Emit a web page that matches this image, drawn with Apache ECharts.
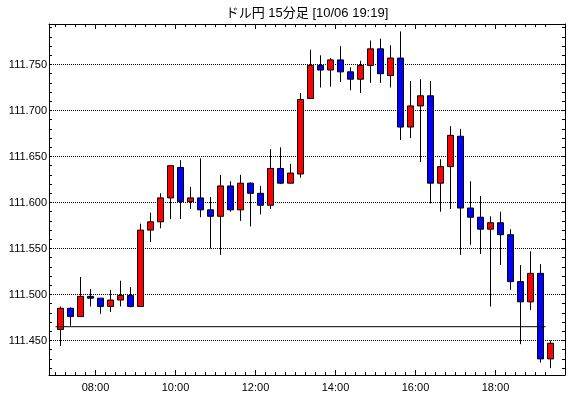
<!DOCTYPE html>
<html><head><meta charset="utf-8">
<script src="https://cdn.jsdelivr.net/npm/echarts@6/dist/echarts.min.js"></script>
<style>html,body{margin:0;padding:0;background:#fff}#c{width:570px;height:398px}</style>
</head><body><div id="c"></div>
<script>
const times = ['07:00','07:15','07:30','07:45','08:00','08:15','08:30','08:45','09:00','09:15',
 '09:30','09:45','10:00','10:15','10:30','10:45','11:00','11:15','11:30','11:45',
 '12:00','12:15','12:30','12:45','13:00','13:15','13:30','13:45','14:00','14:15',
 '14:30','14:45','15:00','15:15','15:30','15:45','16:00','16:15','16:30','16:45',
 '17:00','17:15','17:30','17:45','18:00','18:15','18:30','18:45','19:00','19:15'];
const openV = [111.462,111.485,111.476,111.498,111.496,111.487,111.494,111.499,111.487,111.570,
 111.579,111.605,111.638,111.601,111.605,111.592,111.585,111.618,111.592,111.621,
 111.610,111.597,111.637,111.621,111.631,111.713,111.749,111.744,111.755,111.742,
 111.734,111.749,111.767,111.738,111.757,111.682,111.705,111.716,111.621,111.639,
 111.672,111.594,111.584,111.571,111.578,111.565,111.514,111.492,111.523,111.430];
const closeV = [111.485,111.476,111.498,111.496,111.487,111.494,111.499,111.487,111.570,111.579,
 111.605,111.640,111.601,111.605,111.592,111.585,111.618,111.592,111.621,111.610,
 111.597,111.637,111.621,111.632,111.712,111.749,111.744,111.755,111.742,111.734,
 111.749,111.767,111.740,111.757,111.682,111.705,111.716,111.621,111.639,111.673,
 111.594,111.584,111.571,111.578,111.565,111.514,111.492,111.523,111.430,111.447];
const lowV = [111.444,111.466,111.476,111.487,111.479,111.481,111.487,111.486,111.487,111.557,
 111.572,111.582,111.582,111.593,111.584,111.550,111.543,111.590,111.580,111.574,
 111.587,111.593,111.620,111.621,111.627,111.713,111.725,111.726,111.731,111.722,
 111.719,111.730,111.730,111.725,111.668,111.670,111.644,111.599,111.590,111.593,
 111.543,111.554,111.544,111.487,111.532,111.505,111.446,111.483,111.426,111.420];
const highV = [111.487,111.486,111.519,111.506,111.496,111.505,111.515,111.508,111.577,111.589,
 111.610,111.640,111.646,111.617,111.648,111.606,111.630,111.623,111.630,111.622,
 111.618,111.658,111.660,111.642,111.719,111.766,111.760,111.757,111.770,111.747,
 111.754,111.776,111.778,111.771,111.786,111.732,111.734,111.732,111.647,111.683,
 111.680,111.623,111.607,111.585,111.590,111.571,111.532,111.547,111.533,111.450];
const xLabels = ['08:00','10:00','12:00','14:00','16:00','18:00'];
const yLabels = [111.450,111.500,111.550,111.600,111.650,111.700,111.750];
const prevClose = 111.465;
const prevCloseFrom = '07:00', prevCloseTo = '19:15';
const titleText = 'ドル円 15分足 [10/06 19:19]';

const X_MIN = -1.15, X_MAX = 50.45;
const Y_MAX = 111.79402, Y_MIN = 111.79402 - 351/920;
const FONT = '"Liberation Sans", "Noto Sans CJK JP", sans-serif';

const candles = times.map((t, i) => [i, openV[i], closeV[i], lowV[i], highV[i]]);
const minorX = times.map((t, i) => i - 0.5);
const majorX = xLabels.map(l => times.indexOf(l) - 0.5);
const labelMap = {};
xLabels.forEach((l, k) => { labelMap[majorX[k].toFixed(1)] = l; });
const minorY = [];
for (let k = 42; k <= 79; k++) minorY.push(+(111 + k / 100).toFixed(2));

function xAx(pos, ticks, len, withLine, withLabel) {
  return {
    type: 'value', position: pos, min: X_MIN, max: X_MAX,
    axisLine: { show: withLine, onZero: false, lineStyle: { color: '#000', width: 1 } },
    axisTick: { show: true, inside: false, length: -len, customValues: ticks, lineStyle: { color: '#000', width: 1 } },
    axisLabel: withLabel ? {
      show: true, customValues: majorX, margin: 7, color: '#000', fontSize: 11, fontFamily: FONT,
      formatter: v => labelMap[(+v).toFixed(1)] || ''
    } : { show: false },
    splitLine: { show: false }
  };
}
function yAx(pos, withLabel) {
  return {
    type: 'value', position: pos, min: Y_MIN, max: Y_MAX,
    axisLine: { show: true, onZero: false, lineStyle: { color: '#000', width: 1 } },
    axisTick: { show: true, inside: false, length: -3, customValues: minorY, lineStyle: { color: '#000', width: 1 } },
    axisLabel: withLabel ? {
      show: true, customValues: yLabels, margin: 2, color: '#000', fontSize: 11, fontFamily: FONT,
      formatter: v => (+v).toFixed(3)
    } : { show: false },
    splitLine: { show: false }
  };
}

const series = [];
yLabels.forEach(v => {
  series.push({
    type: 'line', xAxisIndex: 0, yAxisIndex: 0, data: [[X_MIN, v], [X_MAX, v]],
    symbol: 'none', silent: true, z: 1,
    lineStyle: { color: '#000', width: 1, type: [1, 1] }
  });
});
series.push({
  type: 'candlestick', xAxisIndex: 0, yAxisIndex: 0, data: candles, barWidth: 6, z: 2,
  itemStyle: { color: '#ff0000', color0: '#0000ff', borderColor: '#000', borderColor0: '#000', borderColorDoji: '#000', borderWidth: 1 }
});
series.push({
  type: 'line', xAxisIndex: 0, yAxisIndex: 0,
  data: [[times.indexOf(prevCloseFrom) - 0.5, prevClose], [times.indexOf(prevCloseTo) - 0.5, prevClose]],
  symbol: 'none', silent: true, z: 3, lineStyle: { color: '#000', width: 1 }
});

const chart = echarts.init(document.getElementById('c'), null, { renderer: 'canvas' });
chart.setOption({
  animation: false,
  backgroundColor: '#fff',
  grid: { left: 49, right: 5, top: 24, bottom: 23, containLabel: false, outerBoundsMode: 'none' },
  graphic: [{
    type: 'text', x: 307, y: 13,
    style: { text: titleText, fill: '#000', font: '13px ' + FONT, align: 'center', verticalAlign: 'middle' }
  }],
  xAxis: [
    xAx('bottom', minorX, 3, true, false),
    xAx('bottom', majorX, 5, false, true),
    xAx('top', minorX, 3, true, false),
    xAx('top', majorX, 5, false, false)
  ],
  yAxis: [yAx('left', true), yAx('right', false)],
  series: series
});
</script>
</body></html>
